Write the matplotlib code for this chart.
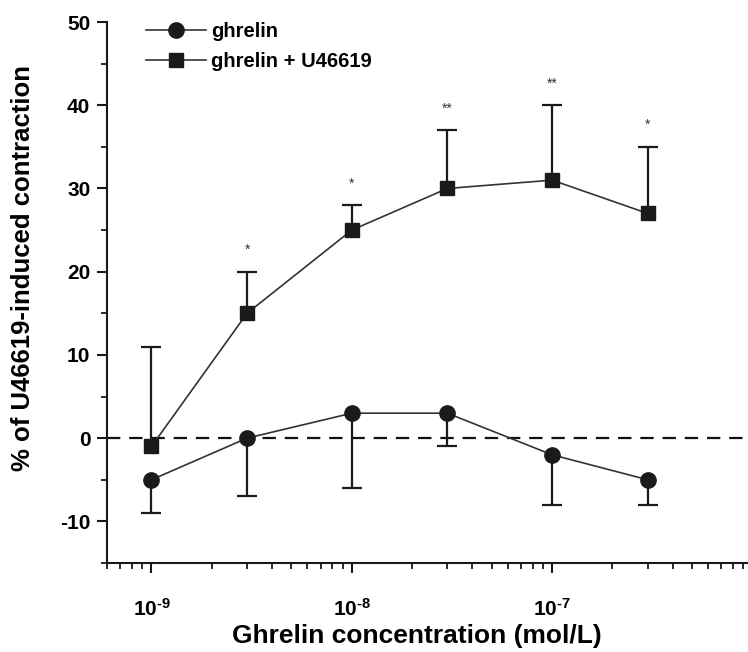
import matplotlib
matplotlib.use("Agg")
import matplotlib.pyplot as plt
import numpy as np
from matplotlib.ticker import LogLocator, FixedLocator, MultipleLocator, NullFormatter

plt.rcParams['font.family'] = ['Liberation Sans', 'DejaVu Sans']
plt.rcParams['font.weight'] = 'bold'
plt.rcParams['axes.unicode_minus'] = False
plt.rcParams['mathtext.fontset'] = 'custom'
plt.rcParams['mathtext.rm'] = 'Liberation Sans:bold'
plt.rcParams['mathtext.bf'] = 'Liberation Sans:bold'
plt.rcParams['mathtext.default'] = 'bf'

conc = [1e-9, 3e-9, 1e-8, 3e-8, 1e-7, 3e-7]
ghrelin = [-5, 0, 3, 3, -2, -5]
ghrelin_err_low = [4, 7, 9, 4, 6, 3]
ghrelin_u = [-1, 15, 25, 30, 31, 27]
ghrelin_u_err_up = [12, 5, 3, 7, 9, 8]
stars = ['', '*', '*', '**', '**', '*']
xtick_vals = [1e-9, 1e-8, 1e-7]
xtick_labels = [r'$10^{\text{-9}}$', r'$10^{\text{-8}}$', r'$10^{\text{-7}}$']

fig = plt.figure(figsize=(7.48, 6.52), dpi=100)
ax = fig.add_axes([107/748, 1-563/652, 1-107/748, (563-22)/652])

ax.axhline(0, color='#111111', lw=1.6, ls=(0, (6, 4)), zorder=1)

zeros = [0]*len(conc)
_, caps1, _ = ax.errorbar(conc, ghrelin, yerr=[ghrelin_err_low, zeros], fmt='none',
                          ecolor='#1a1a1a', elinewidth=1.6, capsize=7.5, capthick=1.6, zorder=2)
caps1[1].set_visible(False)
_, caps2, _ = ax.errorbar(conc, ghrelin_u, yerr=[zeros, ghrelin_u_err_up], fmt='none',
                          ecolor='#1a1a1a', elinewidth=1.6, capsize=7.5, capthick=1.6, zorder=2)
caps2[0].set_visible(False)

ax.plot(conc, ghrelin, color='#333333', lw=1.2, marker='o', ms=11,
        mfc='#1a1a1a', mec='#1a1a1a', label='ghrelin', zorder=3)
ax.plot(conc, ghrelin_u, color='#333333', lw=1.2, marker='s', ms=9.5,
        mfc='#1a1a1a', mec='#1a1a1a', label='ghrelin + U46619', zorder=3)

for x, y, e, s in zip(conc, ghrelin_u, ghrelin_u_err_up, stars):
    if s:
        ax.text(x, y + e + 2.6, s, ha='center', va='center', fontsize=10,
                color='#333333', fontweight='normal')

ax.set_xscale('log')
ax.set_xlim(6e-10, 9.5e-7)
ax.set_ylim(-15, 50)
ax.xaxis.set_major_locator(FixedLocator(xtick_vals))
ax.set_xticklabels(xtick_labels)
ax.xaxis.set_minor_locator(LogLocator(base=10, subs=np.arange(2, 10)))
ax.xaxis.set_minor_formatter(NullFormatter())
ax.yaxis.set_major_locator(MultipleLocator(10))
ax.yaxis.set_minor_locator(MultipleLocator(5))

for sp in ['top', 'right']:
    ax.spines[sp].set_visible(False)
for sp in ['left', 'bottom']:
    ax.spines[sp].set_linewidth(1.5)
    ax.spines[sp].set_color('#1a1a1a')

ax.tick_params(axis='both', which='major', length=7, width=1.5, direction='out',
               labelsize=15, color='#1a1a1a', pad=5)
ax.tick_params(axis='both', which='minor', length=4, width=1.3, direction='out',
               color='#1a1a1a')
ax.tick_params(axis='x', which='major', pad=18)
for lbl in ax.get_yticklabels():
    lbl.set_fontweight('bold')

ax.set_xlabel('Ghrelin concentration (mol/L)', fontsize=19, fontweight='bold')
ax.xaxis.set_label_coords(0.484, -0.112)
ax.set_ylabel('% of U46619-induced contraction', fontsize=18.5, fontweight='bold')
ax.yaxis.set_label_coords(-0.112, 0.545)

leg = ax.legend(loc='upper left', bbox_to_anchor=(0.033, 1.033), frameon=False,
                fontsize=14.5, handlelength=2.95, handletextpad=0.25, labelspacing=0.55)
for t in leg.get_texts():
    t.set_fontweight('bold')

fig.savefig('out.png', dpi=100)
